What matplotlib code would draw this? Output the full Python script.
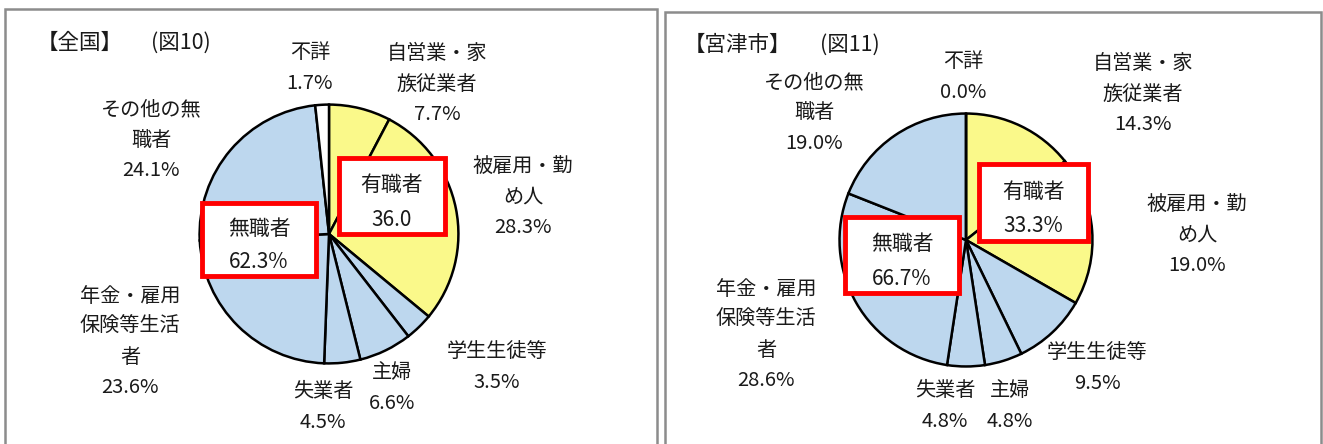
import matplotlib
matplotlib.use("Agg")
import matplotlib.pyplot as plt
from matplotlib.patches import Rectangle

plt.rcParams['font.family'] = ['Noto Sans CJK JP', 'DejaVu Sans']

W, H = 1323, 444

# slices clockwise from 12 o'clock
labels = ['自営業・家\n族従業者', '被雇用・勤\nめ人', '学生生徒等', '主婦', '失業者',
          '年金・雇用\n保険等生活\n者', 'その他の無\n職者', '不詳']
zenkoku = [7.7, 28.3, 3.5, 6.6, 4.5, 23.6, 24.1, 1.7]
miyazu = [14.3, 19.0, 9.5, 4.8, 4.8, 28.6, 19.0, 0.0]
yellow = '#FAF98A'
blue = '#BDD7EE'
colors = [yellow, yellow, blue, blue, blue, blue, blue, 'white']

fig = plt.figure(figsize=(W / 100, H / 100), dpi=100)


def px(x, y):
    return x / W, 1 - y / H


def txt(x, y, s, size=14.5, ha='center'):
    fx, fy = px(x, y)
    fig.text(fx, fy, s, ha=ha, va='center', fontsize=size, color='#1a1a1a',
             linespacing=1.6)


def box(x0, y0, x1, y1, line1, line2):
    fx, fy = px(x0, y1)
    fig.patches.append(Rectangle((fx, fy), (x1 - x0) / W, (y1 - y0) / H,
                                 transform=fig.transFigure, facecolor='white',
                                 edgecolor='#FF0000', linewidth=3.5, zorder=5))
    cx = (x0 + x1) / 2
    h = y1 - y0
    for yy, s in [(y0 + h * 0.36, line1), (y0 + h * 0.81, line2)]:
        fx, fy = px(cx, yy)
        fig.text(fx, fy, s, ha='center', va='center', fontsize=15,
                 color='#1a1a1a', zorder=6)


def panel(x0, y0, x1, y1):
    fx, fy = px(x0, y1)
    fig.patches.append(Rectangle((fx, fy), (x1 - x0) / W, (y1 - y0) / H,
                                 transform=fig.transFigure, facecolor='none',
                                 edgecolor='#8C8C8C', linewidth=1.8, zorder=1))


def pie(cx, cy, r, values):
    fx, fy = px(cx - r, cy + r)
    ax = fig.add_axes([fx, fy, 2 * r / W, 2 * r / H])
    ax.pie(values, colors=colors, startangle=90, counterclock=False,
           wedgeprops=dict(edgecolor='black', linewidth=1.8))
    ax.set_xlim(-1.02, 1.02)
    ax.set_ylim(-1.02, 1.02)
    ax.axis('off')


panel(5, 9, 657, 460)
panel(665, 12, 1321, 460)

# 全国
pie(329, 234, 132, zenkoku)
txt(80, 43, '【全国】', size=15.5)
txt(181, 43, '(図10)', size=15.5)
txt(310, 68, '不詳\n' + f'{zenkoku[7]:.1f}%')
txt(437, 84, labels[0] + '\n' + f'{zenkoku[0]:.1f}%')
txt(523, 197, labels[1] + '\n' + f'{zenkoku[1]:.1f}%')
txt(497, 367, labels[2] + '\n' + f'{zenkoku[2]:.1f}%')
txt(392, 388, labels[3] + '\n' + f'{zenkoku[3]:.1f}%')
txt(323, 407, labels[4] + '\n' + f'{zenkoku[4]:.1f}%')
txt(130, 342, labels[5] + '\n' + f'{zenkoku[5]:.1f}%')
txt(151, 140, labels[6] + '\n' + f'{zenkoku[6]:.1f}%')
box(339, 158, 445, 234, '有職者', '36.0')
box(202, 203, 316, 276, '無職者', '62.3%')

# 宮津市
pie(966, 240, 129, miyazu)
txt(737, 45, '【宮津市】', size=15.5)
txt(850, 45, '(図11)', size=15.5)
txt(963, 77, '不詳\n' + f'{miyazu[7]:.1f}%')
txt(1143, 94, labels[0] + '\n' + f'{miyazu[0]:.1f}%')
txt(814, 113, labels[6] + '\n' + f'{miyazu[6]:.1f}%')
txt(1197, 235, labels[1] + '\n' + f'{miyazu[1]:.1f}%')
txt(1097, 368, labels[2] + '\n' + f'{miyazu[2]:.1f}%')
txt(945, 406, labels[4] + '\n' + f'{miyazu[4]:.1f}%')
txt(1010, 406, labels[3] + '\n' + f'{miyazu[3]:.1f}%')
txt(766, 335, labels[5] + '\n' + f'{miyazu[5]:.1f}%')
box(979, 164, 1088, 241, '有職者', '33.3%')
box(845, 217, 959, 293, '無職者', '66.7%')

fig.savefig('out.png', dpi=100)
